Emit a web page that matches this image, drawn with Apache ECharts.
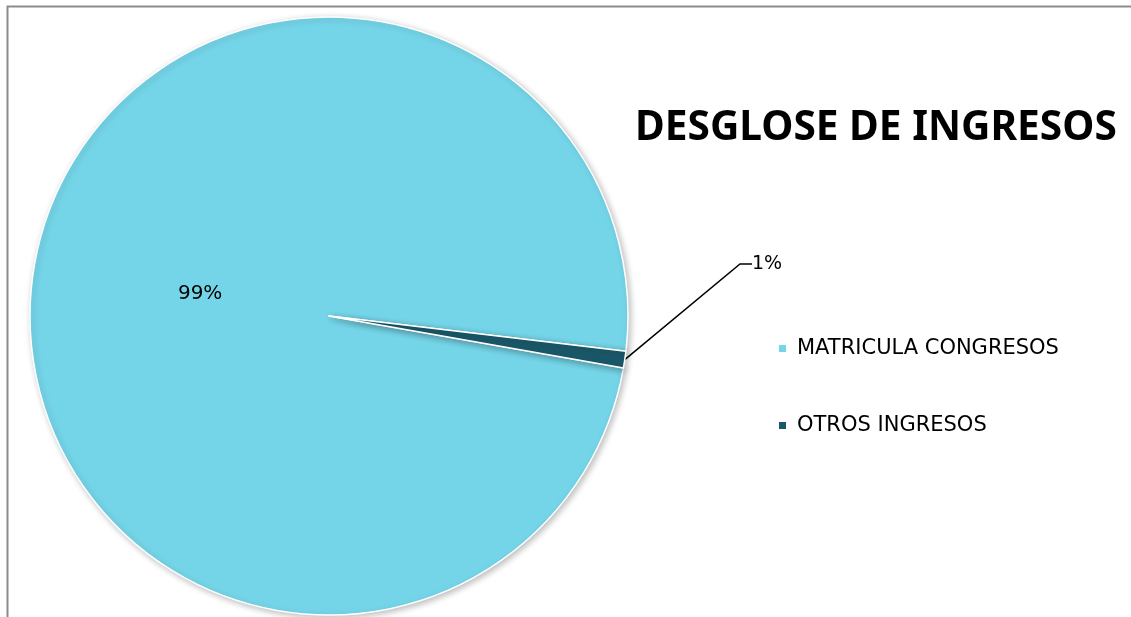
<!DOCTYPE html>
<html><head><meta charset="utf-8">
<script src="https://cdn.jsdelivr.net/npm/echarts@6/dist/echarts.min.js"></script>
<style>html,body{margin:0;padding:0;background:#fff}#c{width:1131px;height:617px}</style>
</head><body><div id="c"></div>
<script>
const titleText = 'DESGLOSE DE INGRESOS';
const categories = ['MATRICULA CONGRESOS', 'OTROS INGRESOS'];
const values = [99.1, 0.9];
const colors = ['#75D5E8', '#1A5869'];

// fit title font size to target width
const titleFont = 'Noto Sans';
const ctx = document.createElement('canvas').getContext('2d');
ctx.font = 'bold 100px "' + titleFont + '"';
const titleSize = Math.min(48, 100 * 482 / ctx.measureText(titleText).width);

const chart = echarts.init(document.getElementById('c'));
chart.setOption({
  animation: false,
  backgroundColor: '#fff',
  graphic: [{type:'rect', shape:{x:7.5,y:6.5,width:1200,height:700}, style:{fill:'none', stroke:'#8c8c8c', lineWidth:2}, silent:true, z:-10}],
  title: {text: titleText, left: 630, top: 127 - titleSize * 0.6,
    textStyle: {fontFamily: titleFont, fontWeight: 'bold', fontSize: titleSize, color: '#000'}},
  legend: {orient: 'vertical', left: 772, top: 333, itemWidth: 9, itemHeight: 9, itemGap: 56, icon: 'rect',
    textStyle: {fontFamily: 'DejaVu Sans', fontSize: 21, color: '#000', padding: [0, 0, 0, 5]},
    data: categories},
  series: [{
    type: 'pie', center: [329, 316], radius: 299, startAngle: -10, clockwise: true,
    itemStyle: {borderColor: '#fff', borderWidth: 1.5, shadowBlur: 6, shadowColor: 'rgba(0,0,0,0.25)', shadowOffsetX: 2, shadowOffsetY: 2},
    label: {formatter: p => Math.round(p.percent) + '%', fontFamily: 'DejaVu Sans', fontSize: 20, color: '#000'},
    labelLine: {lineStyle: {color: '#000', width: 1.5}, length: 20, length2: 12},
    labelLayout: function (p) {
      if (p.dataIndex === 1) return {x: 752, y: 264, align: 'left', verticalAlign: 'middle', fontSize: 19};
      return {dx: 22};
    },
    data: categories.map((n, i) => ({name: n, value: values[i], itemStyle: {color: colors[i]},
      label: {position: i === 0 ? 'inside' : 'outside', fontSize: i === 0 ? 20 : 18}, labelLine: {show: i === 1}}))
  }]
});
</script></body></html>
